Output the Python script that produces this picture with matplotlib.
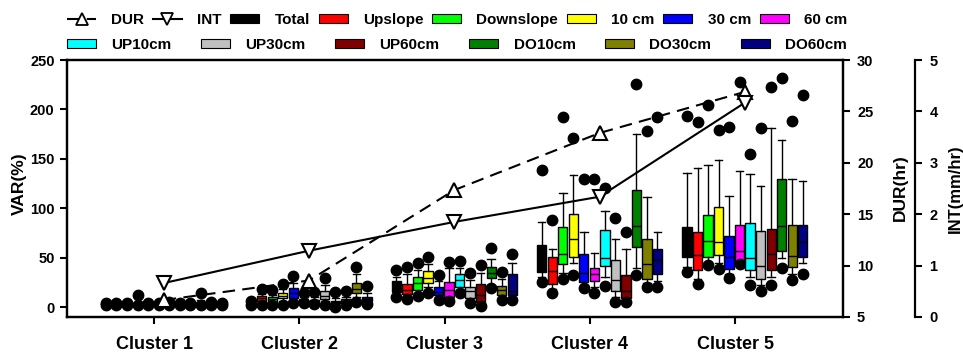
"""
Box plots of VAR(%) by soil-moisture group for five rainfall clusters,
with mean event duration (DUR) and intensity (INT) on extra right axes.
Output: out.png
"""

import matplotlib
matplotlib.use("Agg")
import matplotlib.pyplot as plt
from matplotlib.lines import Line2D
import matplotlib.patches as mpatches

plt.rcParams["font.family"] = ["Liberation Sans", "DejaVu Sans"]
plt.rcParams["font.weight"] = "bold"
plt.rcParams["axes.labelweight"] = "bold"

CLUSTERS = ["Cluster 1", "Cluster 2", "Cluster 3", "Cluster 4", "Cluster 5"]

GROUPS = ["Total", "Upslope", "Downslope", "10 cm", "30 cm", "60 cm",
          "UP10cm", "UP30cm", "UP60cm", "DO10cm", "DO30cm", "DO60cm"]
GROUP_COLORS = ["#000000", "#ff0000", "#00ff00", "#ffff00", "#0000ff", "#ff00ff",
                "#00ffff", "#c0c0c0", "#800000", "#008000", "#808000", "#000080"]

# mean duration (hr) and intensity (mm/hr) per cluster
DUR = [6.65, 8.55, 17.35, 22.9, 26.9]
INT = [0.66, 1.29, 1.85, 2.34, 4.17]

# box statistics of VAR(%): one row per cluster, one column per group
WHISKER_LO = [
    [2.5, 2.5, 2.5, 2.5, 2.5, 2.5, 2.5, 2.5, 2.5, 3.0, 2.5, 2.5],
    [2.5, 5.0, 4.0, 6.0, 6.0, 5.0, 5.0, 6.0, 3.0, 3.5, 10.0, 5.0],
    [13.0, 11.0, 14.0, 20.0, 10.0, 8.0, 17.0, 6.0, 3.0, 22.0, 9.0, 9.0],
    [30.0, 18.0, 35.0, 45.0, 22.0, 20.0, 30.0, 10.0, 7.0, 40.0, 24.0, 26.0],
    [40.2, 28.0, 45.0, 45.0, 33.0, 44.0, 30.0, 22.0, 30.0, 50.0, 33.0, 45.0],
]
Q1 = [
    [3.0, 3.0, 3.0, 3.2, 3.0, 3.0, 3.0, 3.0, 3.0, 3.8, 3.0, 3.0],
    [3.0, 6.3, 5.6, 8.9, 8.9, 6.3, 6.3, 8.2, 3.7, 4.3, 14.5, 6.3],
    [15.5, 13.2, 17.2, 24.0, 12.1, 10.5, 19.9, 8.8, 5.4, 29.0, 12.1, 12.1],
    [35.4, 23.0, 43.5, 50.6, 25.6, 26.3, 41.8, 16.5, 9.4, 60.4, 28.0, 34.0],
    [50.3, 38.0, 51.0, 52.6, 38.5, 46.6, 37.4, 28.7, 37.4, 57.0, 40.8, 50.6],
]
MEDIAN = [
    [3.5, 3.5, 3.5, 3.7, 3.5, 3.5, 3.5, 3.5, 3.5, 4.5, 3.5, 3.5],
    [4.0, 9.4, 7.9, 11.2, 14.5, 7.2, 7.0, 11.2, 5.3, 6.3, 17.9, 7.9],
    [20.0, 17.0, 24.0, 29.7, 15.5, 17.0, 27.0, 16.5, 12.1, 35.0, 17.2, 16.5],
    [48.0, 36.8, 53.6, 68.5, 34.7, 33.4, 49.3, 27.3, 16.5, 82.3, 43.5, 47.6],
    [62.0, 53.0, 67.0, 66.0, 51.0, 57.0, 50.0, 41.5, 54.0, 82.0, 52.0, 66.0],
]
Q3 = [
    [4.0, 4.0, 4.0, 4.2, 4.0, 4.0, 4.0, 4.0, 4.0, 5.5, 4.0, 4.0],
    [5.0, 11.5, 10.5, 14.5, 18.9, 8.2, 7.5, 16.2, 6.3, 7.9, 24.0, 9.9],
    [26.6, 23.3, 30.7, 36.4, 19.9, 25.5, 33.4, 20.6, 23.3, 40.8, 21.6, 33.0],
    [62.4, 50.3, 81.3, 93.8, 53.6, 39.8, 78.0, 47.6, 32.4, 118.4, 68.5, 58.7],
    [81.3, 76.0, 93.0, 101.5, 72.0, 82.7, 85.0, 77.0, 79.0, 130.0, 82.7, 83.3],
]
WHISKER_HI = [
    [4.5, 4.5, 4.5, 5.0, 4.5, 4.5, 4.5, 4.5, 4.5, 7.0, 4.5, 4.5],
    [6.0, 13.0, 12.0, 18.0, 24.0, 10.0, 10.0, 22.0, 9.0, 10.0, 33.0, 14.0],
    [30.0, 34.0, 38.0, 43.2, 26.0, 40.0, 39.5, 27.0, 35.0, 48.6, 28.0, 44.2],
    [85.7, 58.7, 115.7, 133.6, 75.6, 55.0, 97.5, 68.8, 58.4, 175.0, 111.7, 76.2],
    [135.3, 141.0, 144.0, 149.0, 112.0, 137.6, 135.0, 123.0, 181.5, 168.7, 130.0, 127.5],
]
DOT_LO = [
    [2.0, 2.0, 2.0, 2.0, 2.0, 2.0, 2.0, 2.0, 2.0, 2.0, 2.0, 2.0],
    [2.5, 2.3, 2.3, 2.3, 3.7, 3.7, 3.0, 2.3, 0.5, 2.3, 5.6, 3.0],
    [10.5, 8.1, 11.5, 13.8, 7.1, 6.1, 14.4, 3.7, 1.0, 18.9, 7.1, 7.1],
    [25.6, 13.8, 28.3, 32.4, 18.9, 14.5, 21.3, 4.7, 4.7, 32.4, 20.6, 20.6],
    [35.8, 23.0, 42.5, 38.5, 29.7, 43.5, 22.3, 16.5, 22.3, 40.0, 27.3, 33.0],
]
DOT_HI = [
    [4.5, 4.5, 4.5, 12.0, 4.5, 4.5, 5.0, 4.5, 4.5, 14.0, 5.0, 4.5],
    [6.0, 17.9, 17.2, 23.3, 31.7, 13.8, 14.8, 29.7, 15.5, 16.5, 40.8, 21.6],
    [37.4, 40.8, 45.0, 51.0, 32.4, 45.5, 46.9, 34.7, 42.5, 59.4, 35.8, 53.6],
    [138.7, 88.0, 192.0, 170.7, 129.6, 129.6, 121.0, 89.7, 75.6, 226.0, 178.0, 192.0],
    [193.0, 187.0, 204.0, 179.0, 182.0, 228.0, 155.0, 181.0, 223.0, 232.0, 188.0, 215.0],
]

BOX_STEP = 0.0724
BOX_START = -0.331
BOX_WIDTH = 0.064
LINE_SHIFT = BOX_START + 5.5 * BOX_STEP
DASH = (0, (6, 3.5))

fig = plt.figure(figsize=(9.63, 3.53), dpi=100)
ax = fig.add_axes([0.0696, 0.102, 0.806, 0.728])
xs = list(range(1, len(CLUSTERS) + 1))

for k, (name, color) in enumerate(zip(GROUPS, GROUP_COLORS)):
    stats = []
    for c in range(len(CLUSTERS)):
        stats.append({
            "whislo": WHISKER_LO[c][k], "q1": Q1[c][k], "med": MEDIAN[c][k],
            "q3": Q3[c][k], "whishi": WHISKER_HI[c][k],
            "fliers": [DOT_LO[c][k], DOT_HI[c][k]],
        })
    pos = [x + BOX_START + k * BOX_STEP for x in xs]
    ax.bxp(
        stats, positions=pos, widths=BOX_WIDTH, capwidths=BOX_WIDTH * 0.8,
        patch_artist=True, manage_ticks=False,
        boxprops=dict(facecolor=color, edgecolor="black", linewidth=1.0),
        medianprops=dict(color="black", linewidth=1.0),
        whiskerprops=dict(color="black", linewidth=1.0),
        capprops=dict(color="black", linewidth=1.0),
        flierprops=dict(marker="o", markerfacecolor="black", markeredgecolor="black",
                        markersize=7.5, linestyle="none"),
    )

ax.set_xlim(0.401, 5.744)
ax.set_ylim(-10, 250)
ax.set_xticks(xs)
ax.set_xticklabels(CLUSTERS, fontsize=13)
ax.set_yticks(range(0, 251, 50))
ax.tick_params(axis="y", labelsize=10.5, direction="out", length=5, width=1.5, pad=4)
ax.tick_params(axis="x", direction="out", length=5, width=1.5, pad=9)
for sp in ax.spines.values():
    sp.set_linewidth(1.6)
ax.set_ylabel("VAR(%)", fontsize=12.5)
ax.yaxis.set_label_coords(-0.0515, 0.52)

# duration axis
ax2 = ax.twinx()
ax2.plot([x + LINE_SHIFT for x in xs], DUR, color="black", linestyle=DASH,
         linewidth=1.5, marker="^", markersize=10, markerfacecolor="white",
         markeredgecolor="black", markeredgewidth=1.5, zorder=5)
ax2.set_ylim(5, 30)
ax2.set_yticks(range(5, 31, 5))
ax2.tick_params(axis="y", labelsize=10.5, direction="out", length=5, width=1.5, pad=5)
for sp in ax2.spines.values():
    sp.set_linewidth(1.6)
ax2.set_ylabel("DUR(hr)", fontsize=12.5)
ax2.yaxis.set_label_coords(1.0644, 0.505)

# intensity axis, offset to the right
ax3 = ax.twinx()
ax3.spines["right"].set_position(("axes", 1.093))
for side in ["top", "bottom", "left"]:
    ax3.spines[side].set_visible(False)
ax3.spines["right"].set_linewidth(1.6)
ax3.plot([x + LINE_SHIFT for x in xs], INT, color="black", linestyle="-",
         linewidth=1.5, marker="v", markersize=10, markerfacecolor="white",
         markeredgecolor="black", markeredgewidth=1.5, zorder=5)
ax3.set_ylim(0, 5)
ax3.set_yticks(range(0, 6))
ax3.tick_params(axis="y", labelsize=10.5, direction="out", length=5, width=1.5, pad=5)
ax3.set_ylabel("INT(mm/hr)", fontsize=12)
ax3.yaxis.set_label_coords(1.1355, 0.5)

# legends: lines and first six groups on top row, rest below
row1 = [
    Line2D([], [], color="black", linestyle=DASH, linewidth=1.5, marker="^",
           markersize=8, markerfacecolor="white", markeredgewidth=1.3),
    Line2D([], [], color="black", linestyle="-", linewidth=1.5, marker="v",
           markersize=8, markerfacecolor="white", markeredgewidth=1.3),
]
row1 += [mpatches.Patch(facecolor=c, edgecolor="black", linewidth=0.8)
         for c in GROUP_COLORS[:6]]
row2 = [mpatches.Patch(facecolor=c, edgecolor="black", linewidth=0.8)
        for c in GROUP_COLORS[6:]]

leg_kw = dict(frameon=False, mode="expand", borderaxespad=0, borderpad=0,
              handlelength=1.9, handleheight=0.5, handletextpad=1.0,
              prop={"size": 11, "weight": "bold"}, loc="center")
leg1 = ax.legend(row1, ["DUR", "INT"] + GROUPS[:6], ncol=8,
                 bbox_to_anchor=(0, 1.156, 1.005, 0), **leg_kw)
ax.add_artist(leg1)
ax.legend(row2, GROUPS[6:], ncol=6, bbox_to_anchor=(0, 1.058, 1.005, 0), **leg_kw)

fig.savefig("out.png", dpi=100, facecolor="white")
